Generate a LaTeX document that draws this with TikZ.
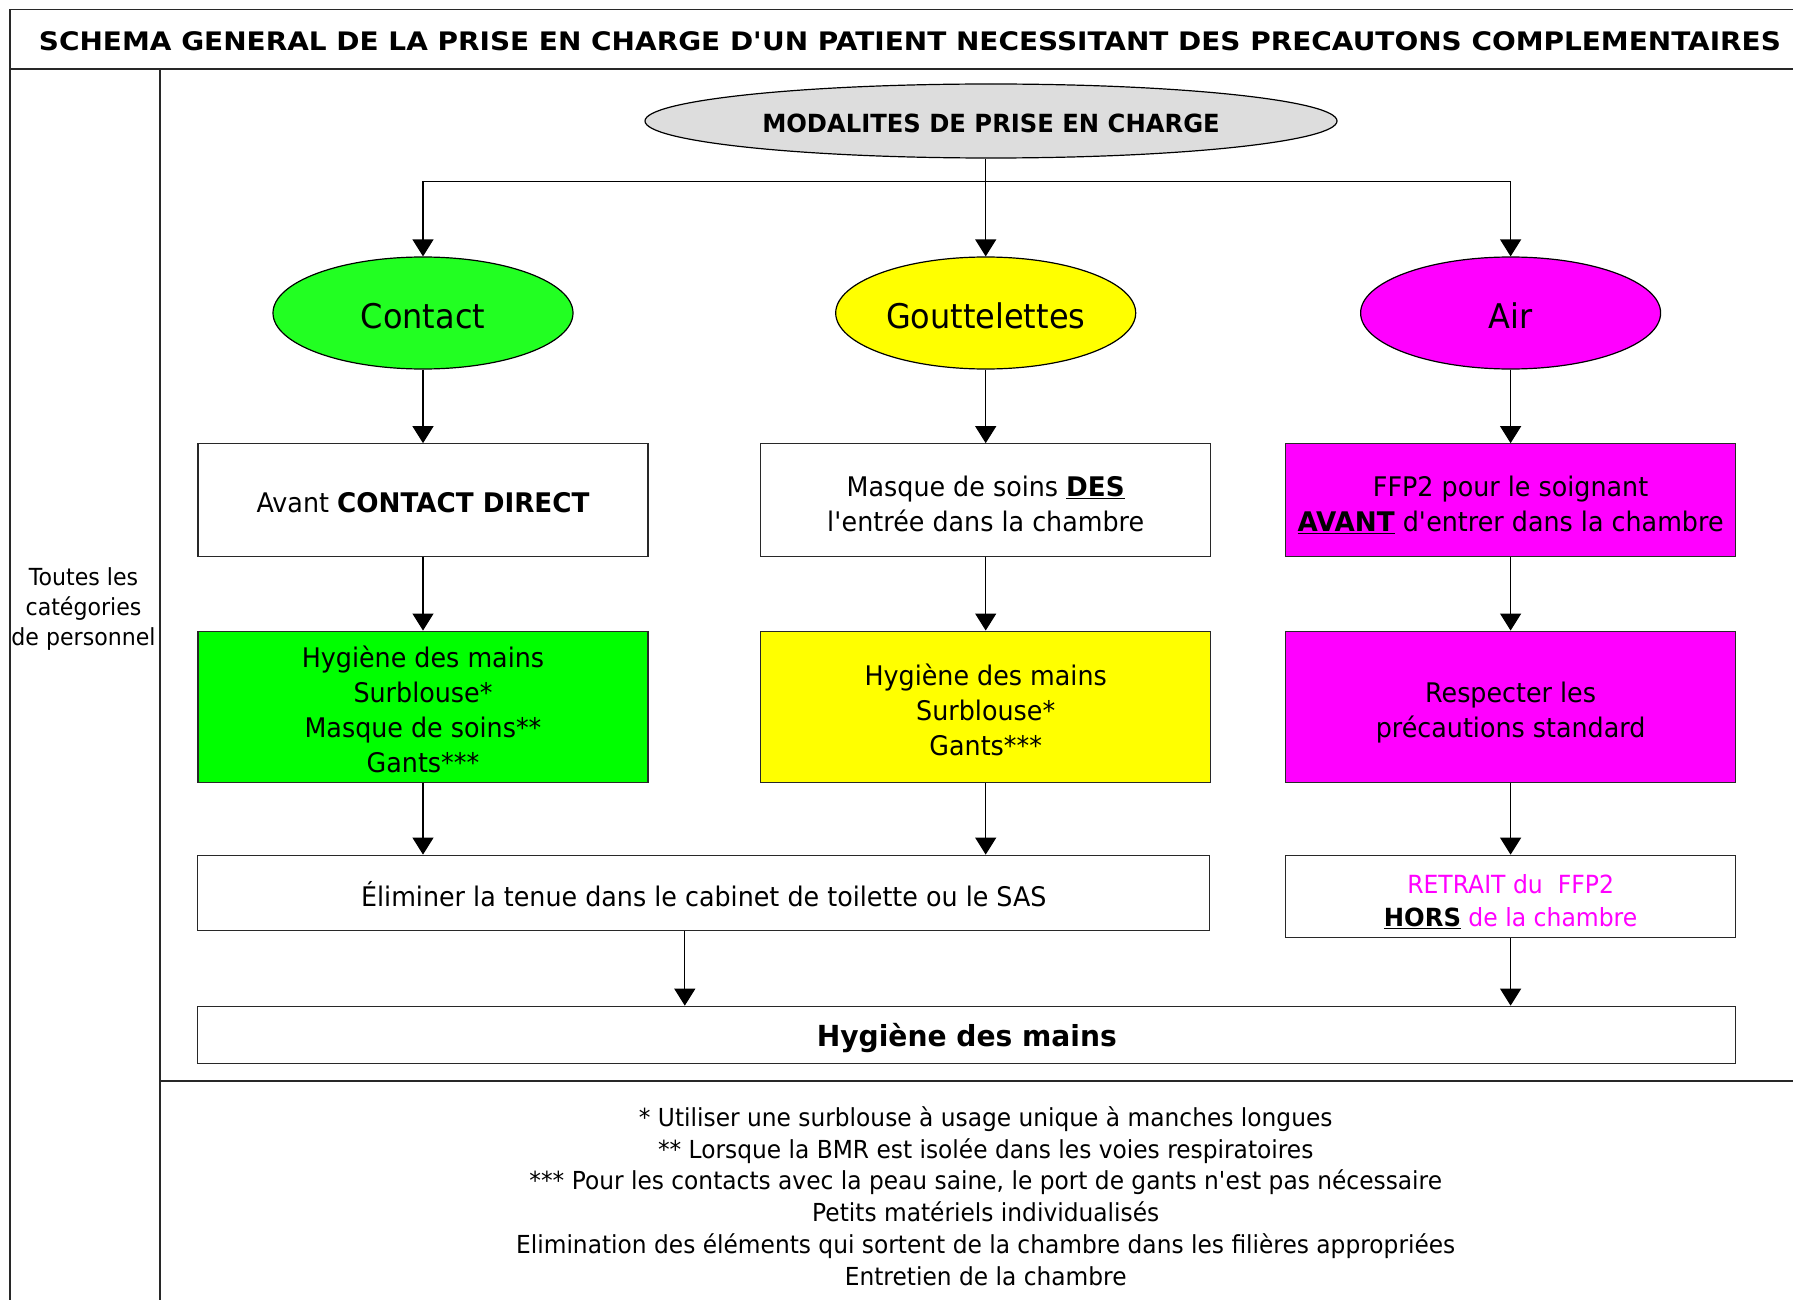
\documentclass[tikz,border=0pt]{standalone}
\usepackage{fontspec}
\setmainfont{DejaVu Sans}[FakeStretch=0.94, BoldFeatures={FakeStretch=0.97}]
\usetikzlibrary{arrows.meta,shapes.geometric}
\definecolor{vert}{RGB}{0,255,0}
\definecolor{vertE}{RGB}{34,255,34}
\definecolor{jaune}{RGB}{255,255,0}
\definecolor{mag}{RGB}{255,0,255}
\definecolor{gris}{RGB}{221,221,221}
\definecolor{trait}{RGB}{40,40,40}
\newcommand\ap{\textquotesingle}
\newcommand\boxfont{\fontsize{27}{35}\selectfont}
\newcommand\bas[2]{\raisebox{-#1}[\height][\depth]{#2}}
\newcommand\lignes[1]{\bas{6.5pt}{\begin{tabular}{@{}c@{}}#1\end{tabular}}}
\begin{document}
\begin{tikzpicture}[x=1pt,y=-1pt,
  frame/.style={draw=trait, line width=1.5pt},
  arr/.style={-{Triangle[width=21pt,length=17pt]}, line width=1.2pt, draw=black},
  plain/.style={line width=1.2pt, draw=black},
  box/.style={rectangle, draw=trait, line width=1.3pt, inner sep=0pt, align=center, font=\boxfont, minimum width=450pt},
  ell/.style={ellipse, draw=black, line width=1.2pt, inner sep=0pt, minimum width=300pt, minimum height=112pt, font=\fontsize{34}{40}\selectfont}
]
\useasboundingbox (0,0) rectangle (1793,1300);
\fill[white] (0,0) rectangle (1793,1300);

% frame
\draw[frame] (10,1300) -- (10,9.3) -- (1793,9.3);
\draw[frame] (10,69) -- (1793,69);
\draw[frame] (160,69) -- (160,1300);
\draw[frame] (160,1081) -- (1793,1081);

\node[font=\bfseries\fontsize{25.5}{30}\selectfont] (title) at (910,41)
  {\scalebox{1.13}[1]{SCHEMA GENERAL DE LA PRISE EN CHARGE D\ap UN PATIENT NECESSITANT DES PRECAUTONS COMPLEMENTAIRES}};

\node[align=center, font=\fontsize{23.5}{30}\selectfont] (toutes) at (83.5,609)
  {Toutes les\\catégories\\de personnel};

% top ellipse
\node[ellipse, draw=black, line width=1.2pt, fill=gris, minimum width=692pt, minimum height=74pt, inner sep=0pt,
  font=\bfseries\fontsize{25}{30}\selectfont] (mod) at (991,121) {\bas{2pt}{MODALITES DE PRISE EN CHARGE}};

\node[ell, fill=vertE] (cont) at (423,313) {\bas{3pt}{Contact}};
\node[ell, fill=jaune] (gout) at (985.7,313) {\bas{3pt}{Gouttelettes}};
\node[ell, fill=mag]   (air)  at (1510.6,313) {\bas{3pt}{Air}};

\coordinate (split) at (985.7,181.7);
\draw[plain] (mod.south -| split) -- (split);
\draw[arr] (split) -- (gout.north);
\draw[arr] (split) -| (cont.north);
\draw[arr] (split) -| (air.north);

% row 1
\node[box, minimum height=113pt] (b1) at (423,500.3)
  {\bas{2pt}{Avant \textbf{CONTACT DIRECT}}};
\node[box, minimum height=113pt] (b2) at (985.7,500.3)
  {\lignes{Masque de soins \underline{\textbf{DES}}\\l\ap entrée dans la chambre}};
\node[box, minimum height=113pt, fill=mag] (b3) at (1510.6,500.3)
  {\lignes{FFP2 pour le soignant\\\underline{\textbf{AVANT}} d\ap entrer dans la chambre}};

% row 2
\node[box, minimum height=151pt, fill=vert] (g1) at (423,706.7)
  {\lignes{Hygiène des mains\\Surblouse*\\Masque de soins**\\Gants***}};
\node[box, minimum height=151pt, fill=jaune] (y2) at (985.7,706.7)
  {\lignes{Hygiène des mains\\Surblouse*\\Gants***}};
\node[box, minimum height=151pt, fill=mag] (m2) at (1510.6,706.7)
  {\lignes{Respecter les\\précautions standard}};

% row 3
\node[box, minimum width=1012pt, minimum height=75.5pt] (elim) at (703.8,893)
  {\bas{1.5pt}{Éliminer la tenue dans le cabinet de toilette ou le SAS}};
\node[box, minimum height=82.4pt, font=\fontsize{25}{33}\selectfont] (ret) at (1510.6,896.5)
  {\lignes{\textcolor{mag}{RETRAIT du\ \ FFP2}\\\underline{\textbf{HORS}} \textcolor{mag}{de la chambre}}};

% row 4
\node[box, minimum width=1538pt, minimum height=57.2pt, font=\bfseries\fontsize{29}{35}\selectfont] (hyg) at (966.8,1034.9)
  {\bas{3pt}{Hygiène des mains}};

% connectors
\draw[arr] (cont) -- (b1);
\draw[arr] (gout) -- (b2);
\draw[arr] (air) -- (b3);
\draw[arr] (b1) -- (g1);
\draw[arr] (b2) -- (y2);
\draw[arr] (b3) -- (m2);
\draw[arr] (g1) -- (g1 |- elim.north);
\draw[arr] (y2) -- (y2 |- elim.north);
\draw[arr] (m2) -- (ret);
\draw[arr] ([xshift=-19pt]elim.south) -- ([xshift=-19pt]elim.south |- hyg.north);
\draw[arr] (ret) -- (ret |- hyg.north);

% footer
\node[align=center, font=\fontsize{24.8}{31.8}\selectfont] (foot) at (985.7,1196)
  {* Utiliser une surblouse à usage unique à manches longues\\
   ** Lorsque la BMR est isolée dans les voies respiratoires\\
   *** Pour les contacts avec la peau saine, le port de gants n\ap est pas nécessaire\\
   Petits matériels individualisés\\
   Elimination des éléments qui sortent de la chambre dans les filières appropriées\\
   Entretien de la chambre};
\end{tikzpicture}
\end{document}
